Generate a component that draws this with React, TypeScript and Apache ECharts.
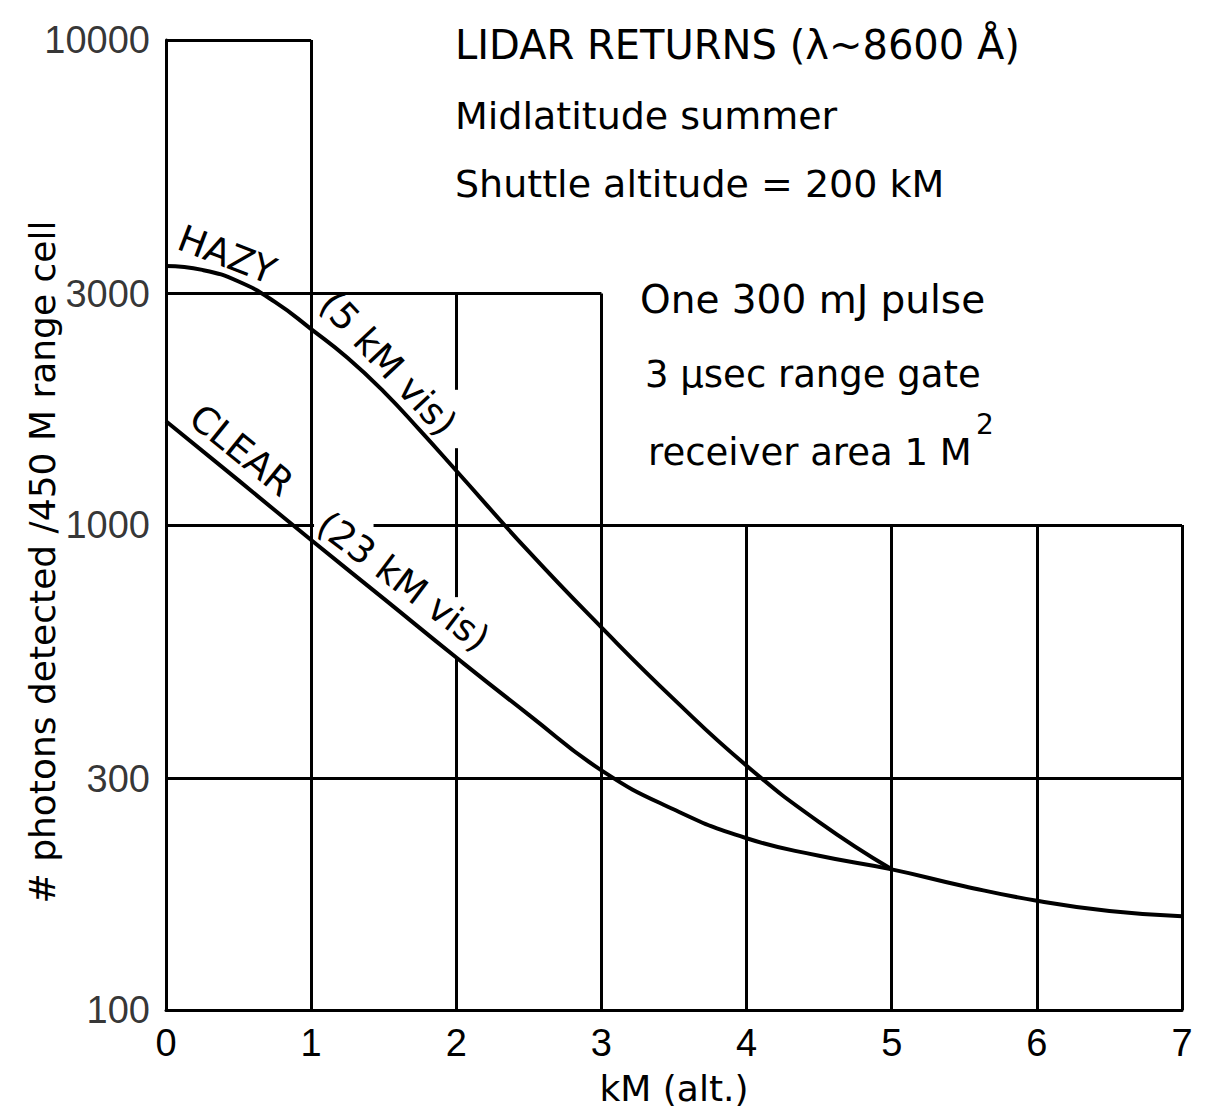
import React, { useEffect, useRef } from "react";
import * as echarts from "echarts";

// ---- data ----
const hazyX = [0, 0.25, 0.5, 0.75, 1, 1.25, 1.5, 1.75, 2, 2.5, 3, 3.5, 4, 4.5, 5];
const hazyY = [3420, 3357, 3177, 2884, 2535, 2213, 1884, 1567, 1294, 881, 615, 437, 319, 244, 195];

const clearX = [0, 0.5, 1, 1.5, 2, 2.5, 3, 3.5, 4, 4.5, 5, 5.5, 6, 6.5, 7];
const clearY = [1637, 1236, 931, 705, 533, 406, 312, 259, 226, 208, 195, 180, 168, 160, 156];

const xMin = 0;
const xMax = 7;
const xStep = 1;
const yMin = 100;
const yMax = 10000;
const yTickValues = [100, 300, 1000, 3000, 10000];

// grid segments drawn on the chart: [x1, y1, x2, y2] in data units
const gridSegments: number[][] = [
  [0, 10000, 1, 10000],
  [1, 100, 1, 10000],
  [0, 3000, 3, 3000],
  [2, 1900, 2, 3000],
  [2, 710, 2, 1440],
  [2, 100, 2, 530],
  [3, 100, 3, 3000],
  [0, 1000, 1.02, 1000],
  [1.43, 1000, 7, 1000],
  [4, 100, 4, 1000],
  [5, 100, 5, 1000],
  [6, 100, 6, 1000],
  [7, 100, 7, 1000],
  [0, 300, 7, 300],
];

const hazyLabels = [
  { text: "HAZY", x: 0.42, y: 3606, rotate: -21 },
  { text: "(5 kM vis)", x: 1.53, y: 2150, rotate: -47 },
];
const clearLabels = [
  { text: "CLEAR", x: 0.52, y: 1425, rotate: -39 },
  { text: "(23 kM vis)", x: 1.635, y: 765, rotate: -37 },
];

const titleLines = ["LIDAR RETURNS (λ~8600 Å)", "Midlatitude summer", "Shuttle altitude = 200 kM"];
const noteLines = ["One 300 mJ pulse", "3 μsec range gate", "receiver area 1 M"];
const noteSup = "2";
const yAxisTitle = "# photons detected /450 M range cell";
const xAxisTitle = "kM (alt.)";

const FONT = "DejaVu Sans";
const NUMFONT = "Liberation Sans";

function toPairs(xs: number[], ys: number[]) {
  return xs.map((x, i) => [x, ys[i]]);
}

function labelPoints(list: { text: string; x: number; y: number; rotate: number }[]) {
  return list.map((l) => ({
    coord: [l.x, l.y],
    symbol: "circle",
    symbolSize: 1,
    itemStyle: { color: "rgba(0,0,0,0)" },
    label: {
      show: true,
      formatter: l.text,
      position: "inside",
      rotate: l.rotate,
      color: "#000",
      fontSize: 37,
      fontFamily: FONT,
    },
  }));
}

export default function App() {
  const ref = useRef<HTMLDivElement>(null);

  useEffect(() => {
    document.body.style.margin = "0";
    if (!ref.current) return;
    const chart = echarts.init(ref.current, undefined, { renderer: "svg" });

    const option: any = {
      animation: false,
      backgroundColor: "#fff",
      textStyle: { fontFamily: FONT, color: "#000" },
      grid: { left: 166, right: 26, top: 40, bottom: 105 },
      xAxis: {
        type: "value",
        min: xMin,
        max: xMax,
        interval: xStep,
        axisLine: { show: true, onZero: false, lineStyle: { color: "#000", width: 3 } },
        axisTick: { show: false },
        splitLine: { show: false },
        axisLabel: { color: "#000", fontSize: 38, fontFamily: NUMFONT, margin: 14 },
        name: xAxisTitle,
        nameLocation: "middle",
        nameGap: 60,
        nameTextStyle: { color: "#000", fontSize: 36, fontFamily: FONT },
      },
      yAxis: {
        type: "log",
        logBase: 10,
        min: yMin,
        max: yMax,
        axisLine: { show: true, onZero: false, lineStyle: { color: "#000", width: 3 } },
        axisTick: { show: false },
        splitLine: { show: false },
        minorSplitLine: { show: false },
        axisLabel: { show: false },
      },
      series: [
        {
          name: "HAZY",
          type: "line",
          data: toPairs(hazyX, hazyY),
          smooth: 0.5,
          symbol: "none",
          lineStyle: { color: "#000", width: 4 },
          z: 3,
          markPoint: { silent: true, data: labelPoints(hazyLabels) },
        },
        {
          name: "CLEAR",
          type: "line",
          data: toPairs(clearX, clearY),
          smooth: 0.5,
          symbol: "none",
          lineStyle: { color: "#000", width: 4 },
          z: 3,
          markPoint: { silent: true, data: labelPoints(clearLabels) },
          markLine: {
            silent: true,
            symbol: ["none", "none"],
            label: { show: false },
            lineStyle: { color: "#000", width: 3, type: "solid" },
            emphasis: { disabled: true },
            data: gridSegments.map((s) => [{ coord: [s[0], s[1]] }, { coord: [s[2], s[3]] }]),
          },
        },
        {
          name: "yTicks",
          type: "scatter",
          data: yTickValues.map((v) => [0, v]),
          symbolSize: 0,
          silent: true,
          label: {
            show: true,
            position: "left",
            distance: 16,
            formatter: (p: any) => String(p.value[1]),
            color: "#000",
            fontSize: 38,
            fontFamily: NUMFONT,
          },
        },
      ],
      graphic: [
        { type: "text", x: 455, y: 45, style: { text: titleLines[0], fontSize: 40, fontFamily: FONT, fill: "#000", align: "left", verticalAlign: "middle" } },
        { type: "text", x: 455, y: 116, style: { text: titleLines[1], fontSize: 38, fontFamily: FONT, fill: "#000", align: "left", verticalAlign: "middle" } },
        { type: "text", x: 455, y: 184, style: { text: titleLines[2], fontSize: 38, fontFamily: FONT, fill: "#000", align: "left", verticalAlign: "middle" } },
        { type: "text", x: 640, y: 299, style: { text: noteLines[0], fontSize: 39, fontFamily: FONT, fill: "#000", align: "left", verticalAlign: "middle" } },
        { type: "text", x: 645, y: 374, style: { text: noteLines[1], fontSize: 37, fontFamily: FONT, fill: "#000", align: "left", verticalAlign: "middle" } },
        { type: "text", x: 648, y: 452, style: { text: noteLines[2], fontSize: 37, fontFamily: FONT, fill: "#000", align: "left", verticalAlign: "middle" } },
        { type: "text", x: 976, y: 424, style: { text: noteSup, fontSize: 28, fontFamily: FONT, fill: "#000", align: "left", verticalAlign: "middle" } },
        { type: "text", x: 42, y: 562, rotation: Math.PI / 2, style: { text: yAxisTitle, fontSize: 36, fontFamily: FONT, fill: "#000", align: "center", verticalAlign: "middle" } },
      ],
    };

    chart.setOption(option);
    return () => chart.dispose();
  }, []);

  return <div ref={ref} style={{ width: 1208, height: 1115 }} />;
}
